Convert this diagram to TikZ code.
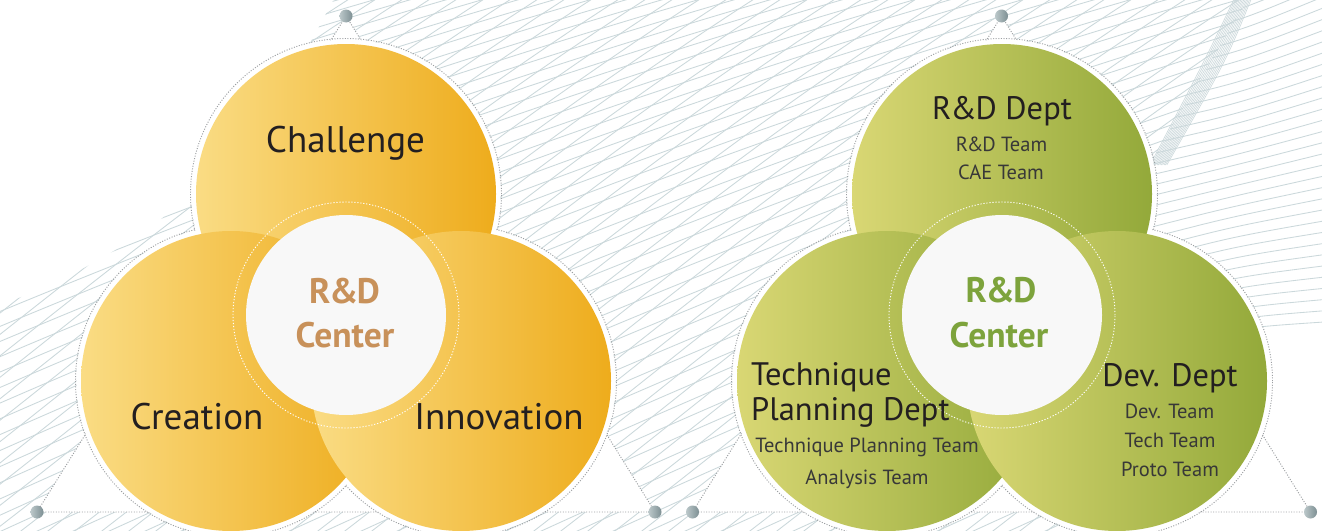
\documentclass[tikz,border=0pt]{standalone}
\usepackage{fontspec}
\setmainfont{PT Sans}
\definecolor{yl}{HTML}{FADC84}
\definecolor{yr}{HTML}{EEAC1C}
\definecolor{gl}{HTML}{D9D774}
\definecolor{gr}{HTML}{93A93A}
\definecolor{meshc}{HTML}{CBD8DB}
\definecolor{dotc}{HTML}{9C9FA2}
\definecolor{txt}{HTML}{231F20}
\definecolor{subtxt}{HTML}{383838}
\definecolor{tanc}{HTML}{C8915A}
\definecolor{grnc}{HTML}{7DA33C}
\definecolor{balll}{HTML}{BCC8CA}
\definecolor{ballr}{HTML}{7D8F93}
\definecolor{ctrfill}{HTML}{F8F8F8}
\newcommand{\amp}{\kern-1.2pt\&\kern-1.2pt}
\tikzset{
  mesh/.style={draw=meshc,line width=0.85pt},
  dotline/.style={draw=dotc,line width=0.95pt,dash pattern=on 1pt off 1.6pt},
  ringdot/.style={draw=white,line width=0.9pt,dash pattern=on 1.2pt off 1.8pt},
  lbl/.style={font=\fontsize{37}{40}\selectfont,text=txt,anchor=base,inner sep=0pt},
  lbltwo/.style={font=\fontsize{32.5}{36}\selectfont,text=txt,anchor=base,inner sep=0pt},
  sublbl/.style={font=\fontsize{20.5}{24}\selectfont,text=subtxt,anchor=base,inner sep=0pt},
  ctrlbl/.style={font=\bfseries\fontsize{35.5}{40}\selectfont,anchor=base,inner sep=0pt},
  knob/.style={left color=balll,right color=ballr},
}
\begin{document}
\begin{tikzpicture}[x=1pt,y=-1pt]
\useasboundingbox (0,0) rectangle (1322,530);
\fill[white] (0,0) rectangle (1322,530);
% background mesh
\begin{scope}
  \clip (0,305) .. controls (120,262) and (210,190) .. (262,118) .. controls (300,62) .. (334,-1) -- (1248,-1) -- (1152,160) -- (1152,531) -- (0,531) -- cycle;
  \foreach \k in {0,...,72} {
    \draw[mesh] ({-1250+36*\k},560) .. controls ({-750+36*\k},330) and ({-250+36*\k},120) .. ({300+36*\k},-30);
  }
  \foreach \k in {0,...,82} {
    \draw[mesh] ({-800+27*\k},560) .. controls ({-550+27*\k},370) and ({-300+27*\k},150) .. ({-10+27*\k},-30);
  }
\end{scope}
\begin{scope}
  \clip (1248,-1) -- (1152,160) -- (1152,340) -- (1323,340) -- (1323,-1) -- cycle;
  \foreach \k in {0,...,32} {
    \draw[mesh] (1140,{20+10.5*\k}) .. controls (1230,{5+10.1*\k}) .. (1330,{-40+11.3*\k});
  }
\end{scope}
\foreach \k in {0,...,12} {
  \draw[mesh,line width=0.6pt] ({1236+1.4*\k},-5) .. controls ({1205+1.8*\k},60) .. ({1150+1.4*\k},165);
}
% ---------------- left diagram ----------------
\begin{scope}
  \coordinate (lt) at (346,16);
  \coordinate (ll) at (37,512);
  \coordinate (lr) at (655,512);
  \fill[white] (lt) -- (ll) -- (lr) -- cycle;
  \draw[dotline] (lt) -- (ll) -- (lr) -- cycle;
  \foreach \c in {(346,194),(231,381),(461,381)} {\draw[dotline] \c circle (155.5pt);}
  \foreach \c in {(346,194),(231,381),(461,381)} {\fill[white] \c circle (154.5pt);}
  \shade[left color=yl,right color=yr] (346,194) circle (150pt);
  \shade[left color=yl,right color=yr] (231,381) circle (150pt);
  \shade[left color=yl,right color=yr] (461,381) circle (150pt);
  \draw[ringdot] (346,315) circle (113pt);
  \fill[ctrfill] (346,315) circle (100pt);
  \shade[knob] (lt) circle (6.5pt);
  \shade[knob] (ll) circle (6.5pt);
  \shade[knob] (lr) circle (6.5pt);
  \node[lbl] (chal) at (345.5,152) {Challenge};
  \node[lbl] (crea) at (197,429) {Creation};
  \node[lbl] (inno) at (499,429) {Innovation};
  \node[ctrlbl,text=tanc] (cla) at (344.5,303) {R\amp D};
  \node[ctrlbl,text=tanc] (clb) at (345,347) {Center};
\end{scope}
% ---------------- right diagram ----------------
\begin{scope}
  \coordinate (rt) at (1001.5,16);
  \coordinate (rl) at (692.5,512);
  \coordinate (rr) at (1310.5,512);
  \fill[white] (rt) -- (rl) -- (rr) -- cycle;
  \draw[dotline] (rt) -- (rl) -- (rr) -- cycle;
  \foreach \c in {(1002,194),(887,381),(1117,381)} {\draw[dotline] \c circle (155.5pt);}
  \foreach \c in {(1002,194),(887,381),(1117,381)} {\fill[white] \c circle (154.5pt);}
  \shade[left color=gl,right color=gr] (1002,194) circle (150pt);
  \shade[left color=gl,right color=gr] (887,381) circle (150pt);
  \shade[left color=gl,right color=gr] (1117,381) circle (150pt);
  \draw[ringdot] (1002,315) circle (113pt);
  \fill[ctrfill] (1002,315) circle (100pt);
  \shade[knob] (rt) circle (6.5pt);
  \shade[knob] (rl) circle (6.5pt);
  \shade[knob] (rr) circle (6.5pt);
  \node[lbltwo] (rdd) at (1002,119) {R\amp D Dept};
  \node[sublbl] (rdt) at (1001.5,151) {R\amp D Team};
  \node[sublbl] (cae) at (1001,179) {CAE Team};
  \node[ctrlbl,text=grnc] (cra) at (1001,302) {R\amp D};
  \node[ctrlbl,text=grnc] (crb) at (999,347) {Center};
  \node[lbltwo,anchor=base west] (tech) at (751,385) {Technique};
  \node[lbltwo,anchor=base west] (plan) at (751,420) {Planning Dept};
  \node[sublbl] (tpt) at (867,452) {Technique Planning Team};
  \node[sublbl] (ant) at (867,484) {Analysis Team};
  \node[lbltwo] (devd) at (1170,386) {Dev. Dept};
  \node[sublbl] (devt) at (1169.5,418) {Dev. Team};
  \node[sublbl] (tect) at (1170,447) {Tech Team};
  \node[sublbl] (prot) at (1170,476) {Proto Team};
\end{scope}
\end{tikzpicture}
\end{document}
